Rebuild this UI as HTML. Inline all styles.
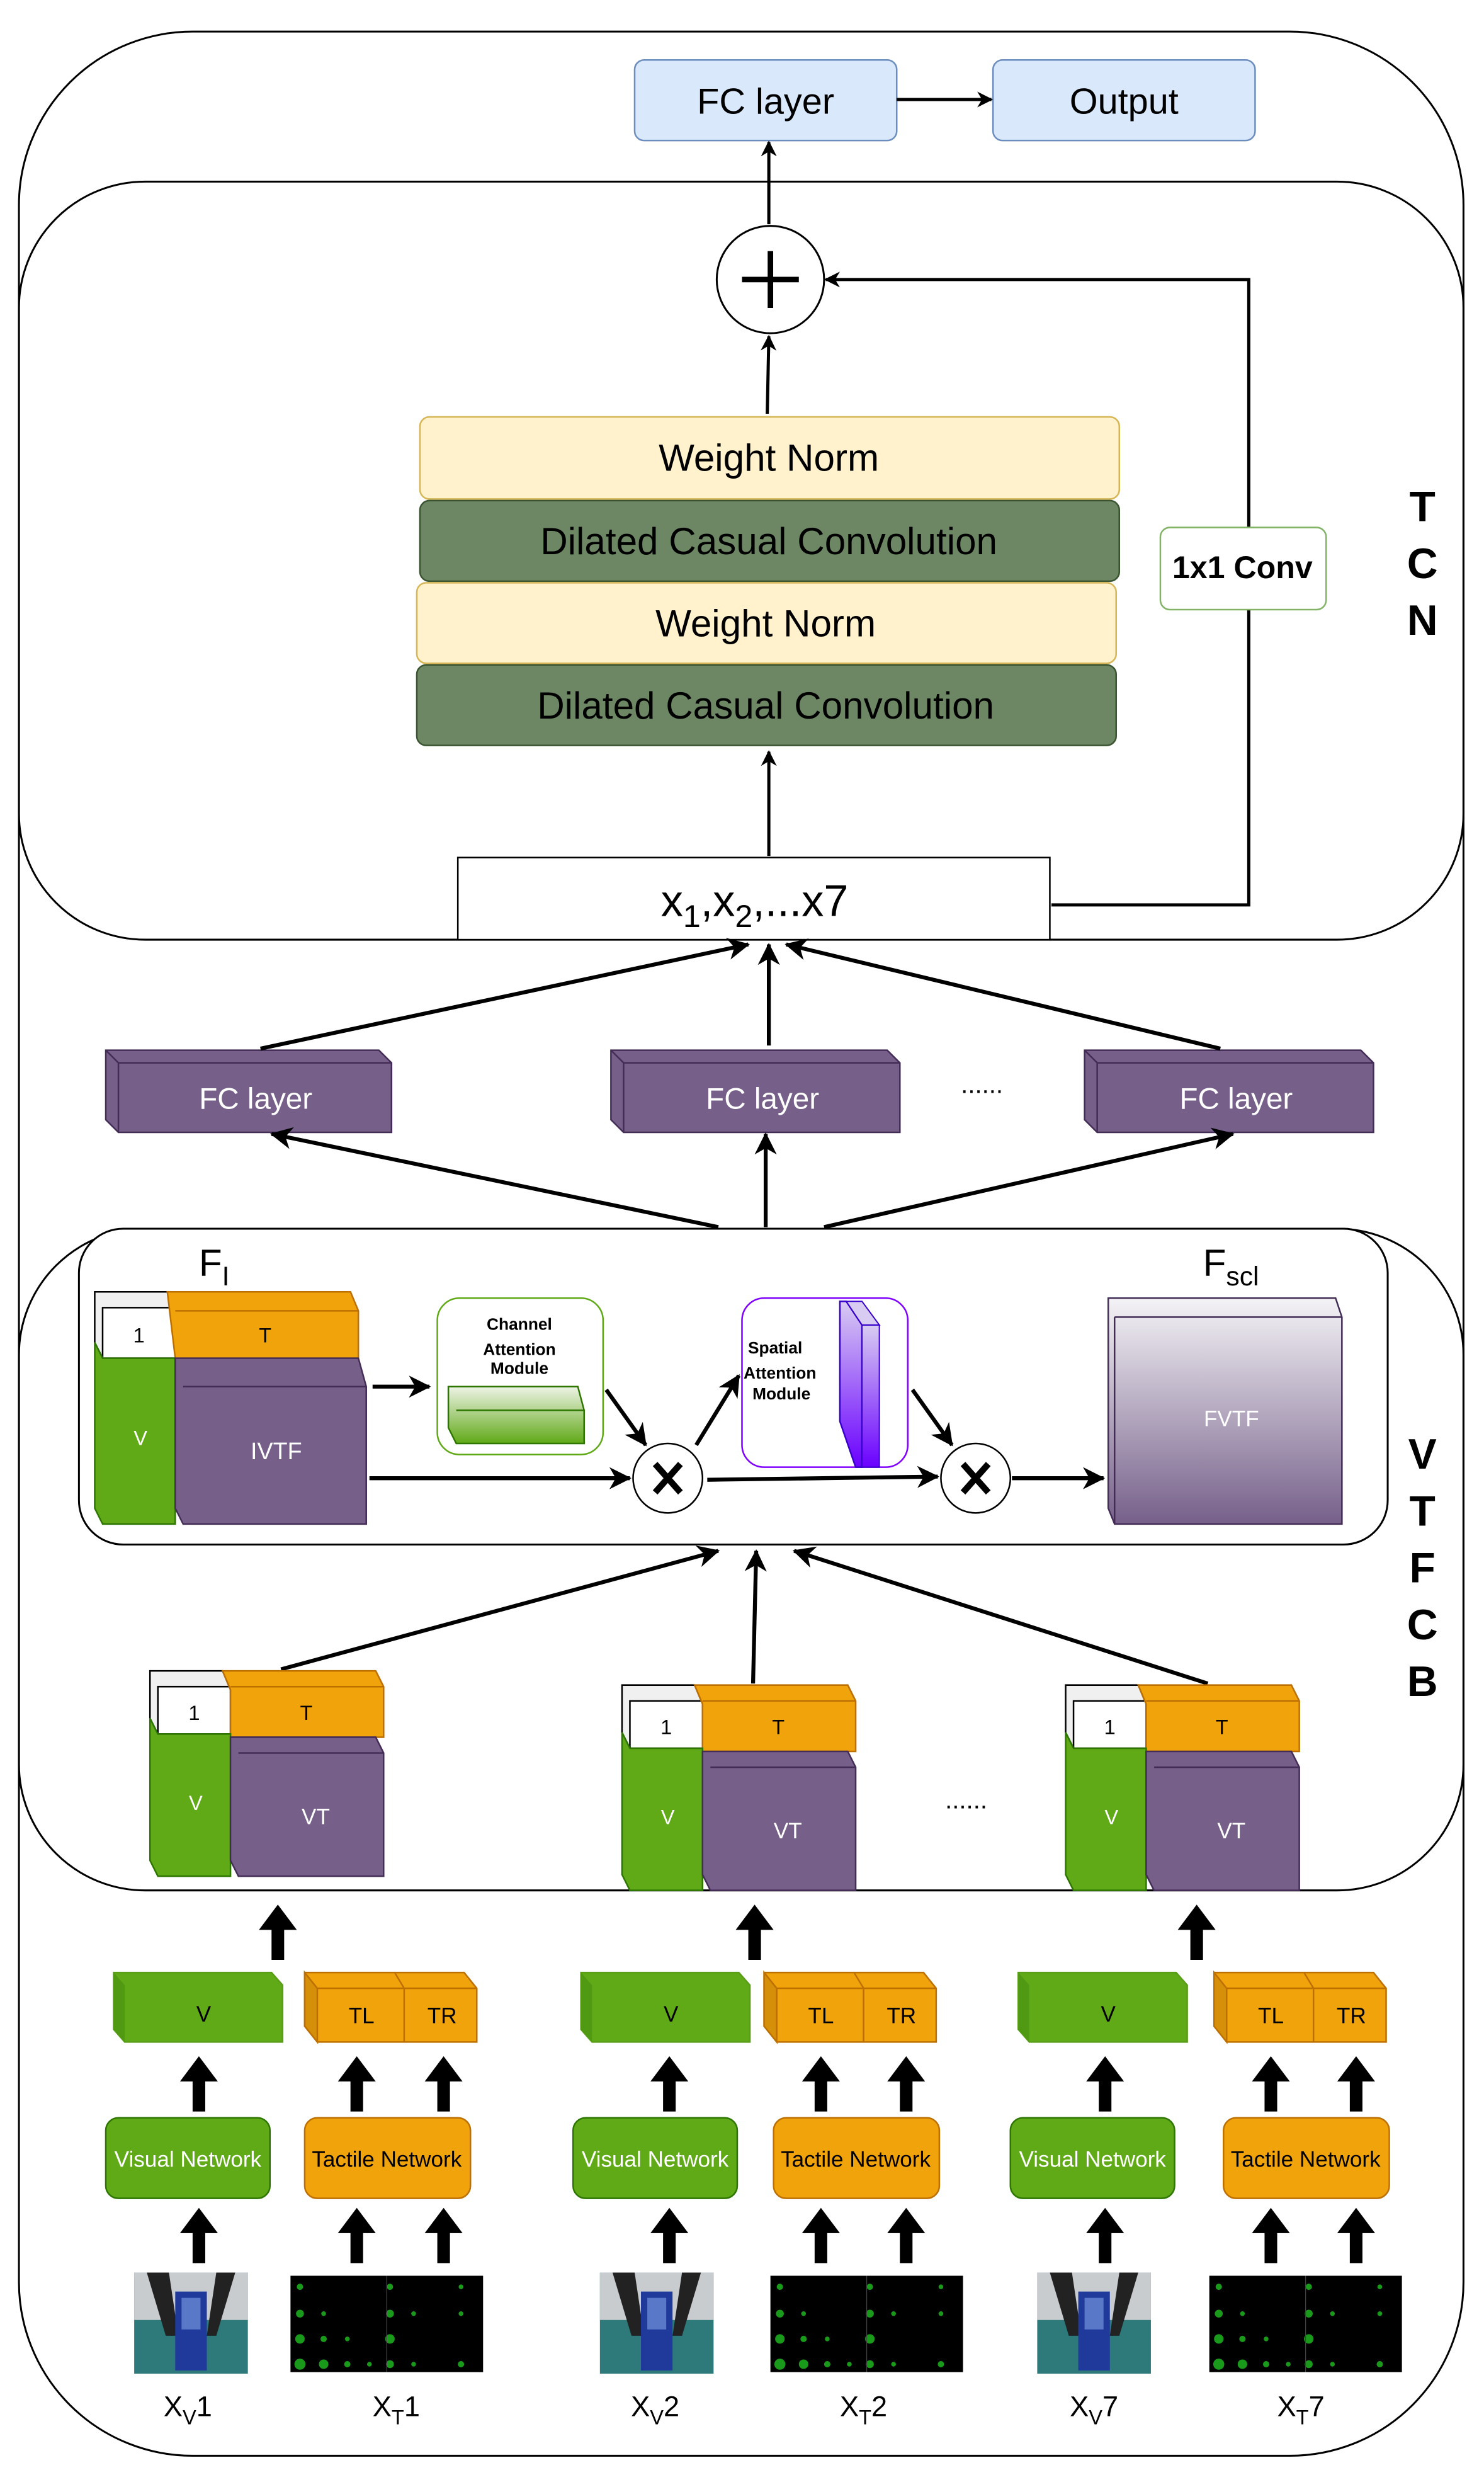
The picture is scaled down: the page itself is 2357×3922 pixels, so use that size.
<!DOCTYPE html>
<html><head><meta charset="utf-8"><style>
html,body{margin:0;padding:0;background:#fff;}
svg{display:block;}
text{font-family:"Liberation Sans",sans-serif;}
</style></head><body>
<svg width="2357" height="3922" viewBox="0 0 940 1564" preserveAspectRatio="none" xmlns="http://www.w3.org/2000/svg">
<defs>
<marker id="a" markerWidth="10" markerHeight="10" refX="9" refY="5" orient="auto" markerUnits="userSpaceOnUse"><path d="M0,0 L10,5 L0,10 L3,5 z" fill="#000"/></marker>
<marker id="b" markerWidth="14" markerHeight="14" refX="13" refY="7" orient="auto" markerUnits="userSpaceOnUse"><path d="M0,0 L14,7 L0,14 L4,7 z" fill="#000"/></marker>
<linearGradient id="gg" x1="0" y1="0" x2="0" y2="1"><stop offset="0" stop-color="#eef3e6"/><stop offset="1" stop-color="#60a917"/></linearGradient>
<linearGradient id="gp" x1="0" y1="0" x2="0" y2="1"><stop offset="0" stop-color="#d8ccf2"/><stop offset="1" stop-color="#6a00ff"/></linearGradient>
<linearGradient id="gf" x1="0" y1="0" x2="0" y2="1"><stop offset="0" stop-color="#f4f3f6"/><stop offset="1" stop-color="#76608a"/></linearGradient>
<g id="photo"><rect width="72" height="64" fill="#2e7a7a"/><rect width="72" height="30" fill="#c9cccf"/><path d="M8,0 L20,40 L28,40 L22,0 z M64,0 L52,40 L46,40 L52,0 z" fill="#222"/><rect x="26" y="12" width="20" height="50" fill="#1f3a9a"/><rect x="30" y="16" width="12" height="20" fill="#5a78c8"/></g>
<g id="tact"><rect width="122" height="61" fill="#000"/>
<g fill="#1a9a1a"><circle cx="6" cy="7" r="2"/><circle cx="6" cy="24" r="2.5"/><circle cx="6" cy="40" r="3"/><circle cx="6" cy="56" r="3.5"/><circle cx="21" cy="24" r="1.5"/><circle cx="21" cy="40" r="2"/><circle cx="21" cy="56" r="3"/><circle cx="36" cy="40" r="1.5"/><circle cx="36" cy="56" r="2"/><circle cx="50" cy="56" r="1.5"/><circle cx="63" cy="7" r="2"/><circle cx="63" cy="24" r="2.5"/><circle cx="63" cy="40" r="3"/><circle cx="63" cy="56" r="2.5"/><circle cx="78" cy="24" r="1.5"/><circle cx="78" cy="56" r="1.5"/><circle cx="108" cy="7" r="1.5"/><circle cx="108" cy="24" r="1.5"/><circle cx="108" cy="56" r="2"/></g>
<line x1="61" y1="0" x2="61" y2="61" stroke="#444" stroke-width="0.5"/></g>
<g id="up"><polygon points="-4,35 4,35 4,16 12,16 0,0 -12,16 -4,16" fill="#000"/></g>
<g id="vt">
<polygon points="0,0 46,0 51,12 51,40 5,40 0,30" fill="#f0f0f0" stroke="#000"/>
<rect x="5" y="10" width="46" height="30" fill="#fff" stroke="#000"/>
<text x="28" y="31" font-size="13" text-anchor="middle">1</text>
<polygon points="46,0 143,0 148,10 148,42 51,42 51,12" fill="#f0a30a" stroke="#bd7000"/>
<line x1="51" y1="10" x2="148" y2="10" stroke="#bd7000"/>
<text x="99" y="31" font-size="13" text-anchor="middle">T</text>
<polygon points="0,30 5,40 51,40 51,130 5,130 0,120" fill="#60a917" stroke="#2d7600"/>
<text x="29" y="88" font-size="13" fill="#fff" text-anchor="middle">V</text>
<polygon points="51,42 143,42 148,52 148,130 56,130 51,120" fill="#76608a" stroke="#432d57"/>
<line x1="56" y1="52" x2="148" y2="52" stroke="#432d57"/>
<text x="105" y="97" font-size="14" fill="#fff" text-anchor="middle">VT</text>
</g>
<g id="vbox">
<polygon points="0,0 100,0 107,8 107,44 7,44 0,36" fill="#60a917" stroke="#5a9e18"/>
<polygon points="0,0 7,8 7,44 0,36" fill="#4f9a12"/>
<rect x="0" y="0" width="107" height="8" fill="#58a016" opacity="0"/>
<text x="57" y="31" font-size="14" text-anchor="middle">V</text>
</g>
<g id="tbox">
<polygon points="0,0 101,0 109,10 109,44 8,44 0,34" fill="#f0a30a" stroke="#bd7000"/>
<polygon points="0,0 8,10 8,44 0,34" fill="#d68f08" stroke="#bd7000"/>
<line x1="8" y1="10" x2="109" y2="10" stroke="#bd7000"/>
<line x1="63" y1="10" x2="63" y2="44" stroke="#bd7000"/>
<line x1="57" y1="0" x2="63" y2="10" stroke="#bd7000"/>
<text x="36" y="32" font-size="14" text-anchor="middle">TL</text>
<text x="87" y="32" font-size="14" text-anchor="middle">TR</text>
</g>
<g id="vnet"><rect x="0" y="0" width="104" height="51" rx="8" fill="#60a917" stroke="#2d7600"/><text x="52" y="31" font-size="14" fill="#fff" text-anchor="middle">Visual Network</text></g>
<g id="tnet"><rect x="0" y="0" width="105" height="51" rx="8" fill="#f0a30a" stroke="#bd7000"/><text x="52" y="31" font-size="14" text-anchor="middle">Tactile Network</text></g>
</defs>

<rect x="12" y="20" width="915" height="1535" rx="110" ry="110" fill="none" stroke="#000" stroke-width="1.2"/>
<rect x="12" y="115" width="915" height="480" rx="80" ry="80" fill="none" stroke="#000" stroke-width="1.2"/>
<rect x="12" y="778" width="915" height="419" rx="80" ry="80" fill="none" stroke="#000" stroke-width="1.2"/>
<rect x="50" y="778" width="829" height="200" rx="28" ry="28" fill="#fff" stroke="#000" stroke-width="1.2"/>

<rect x="402" y="38" width="166" height="51" rx="6" fill="#dae8fc" stroke="#6c8ebf"/>
<text x="485" y="72" font-size="23" text-anchor="middle">FC layer</text>
<rect x="629" y="38" width="166" height="51" rx="6" fill="#dae8fc" stroke="#6c8ebf"/>
<text x="712" y="72" font-size="23" text-anchor="middle">Output</text>
<line x1="568" y1="63" x2="628" y2="63" stroke="#000" stroke-width="2" marker-end="url(#a)"/>
<line x1="487" y1="142" x2="487" y2="90" stroke="#000" stroke-width="2" marker-end="url(#a)"/>
<circle cx="488" cy="177" r="34" fill="#fff" stroke="#000" stroke-width="1.2"/>
<path d="M470,177 H506 M488,159 V195" stroke="#000" stroke-width="3.5"/>
<line x1="486" y1="262" x2="487" y2="213" stroke="#000" stroke-width="2" marker-end="url(#a)"/>

<rect x="266" y="264" width="443" height="52" rx="6" fill="#fff2cc" stroke="#d6b656"/>
<text x="487" y="298" font-size="24" text-anchor="middle">Weight Norm</text>
<rect x="266" y="317" width="443" height="51" rx="6" fill="#6d8764" stroke="#3a5431"/>
<text x="487" y="351" font-size="24" text-anchor="middle">Dilated Casual Convolution</text>
<rect x="264" y="369" width="443" height="51" rx="6" fill="#fff2cc" stroke="#d6b656"/>
<text x="485" y="403" font-size="24" text-anchor="middle">Weight Norm</text>
<rect x="264" y="421" width="443" height="51" rx="6" fill="#6d8764" stroke="#3a5431"/>
<text x="485" y="455" font-size="24" text-anchor="middle">Dilated Casual Convolution</text>

<polyline points="666,573 791,573 791,177 523,177" fill="none" stroke="#000" stroke-width="2" marker-end="url(#a)"/>
<rect x="735" y="334" width="105" height="52" rx="6" fill="#fff" stroke="#82b366"/>
<text x="787" y="366" font-size="20" font-weight="bold" text-anchor="middle">1x1 Conv</text>
<line x1="487" y1="542" x2="487" y2="476" stroke="#000" stroke-width="2" marker-end="url(#a)"/>

<rect x="290" y="543" width="375" height="52" fill="#fff" stroke="#000"/>
<text x="478" y="580" font-size="28" text-anchor="middle">x<tspan font-size="20" dy="7">1</tspan><tspan dy="-7">,x</tspan><tspan font-size="20" dy="7">2</tspan><tspan dy="-7">,...x7</tspan></text>

<g font-size="27" font-weight="bold" text-anchor="middle"><text x="901" y="330">T</text><text x="901" y="366">C</text><text x="901" y="402">N</text>
<text x="901" y="930">V</text><text x="901" y="966">T</text><text x="901" y="1002">F</text><text x="901" y="1038">C</text><text x="901" y="1074">B</text></g>

<g fill="#76608a" stroke="#432d57">
<polygon points="67,665 240,665 248,673 248,717 75,717 67,709"/>
<polygon points="387,665 562,665 570,673 570,717 395,717 387,709"/>
<polygon points="687,665 862,665 870,673 870,717 695,717 687,709"/>
</g>
<g stroke="#432d57" fill="none"><path d="M67,665 L75,673 H248 M75,673 V717"/><path d="M387,665 L395,673 H570 M395,673 V717"/><path d="M687,665 L695,673 H870 M695,673 V717"/></g>
<g font-size="19" fill="#fff" text-anchor="middle"><text x="162" y="702">FC layer</text><text x="483" y="702">FC layer</text><text x="783" y="702">FC layer</text></g>
<text x="622" y="692" font-size="16" text-anchor="middle">......</text>
<g stroke="#000" stroke-width="2.5">
<line x1="165" y1="664" x2="474" y2="598" marker-end="url(#b)"/>
<line x1="487" y1="662" x2="487" y2="598" marker-end="url(#b)"/>
<line x1="773" y1="664" x2="498" y2="598" marker-end="url(#b)"/>
<line x1="455" y1="777" x2="172" y2="718" marker-end="url(#b)"/>
<line x1="485" y1="777" x2="485" y2="718" marker-end="url(#b)"/>
<line x1="522" y1="777" x2="781" y2="718" marker-end="url(#b)"/>
</g>

<text x="126" y="808" font-size="24">F<tspan font-size="17" dy="6">I</tspan></text>
<text x="762" y="808" font-size="24">F<tspan font-size="17" dy="6">scl</tspan></text>
<polygon points="60,818 106,818 111,832 111,860 65,860 60,850" fill="#f0f0f0" stroke="#000"/>
<rect x="65" y="828" width="46" height="32" fill="#fff" stroke="#000"/>
<text x="88" y="850" font-size="13" text-anchor="middle">1</text>
<polygon points="106,818 222,818 227,830 227,860 111,860" fill="#f0a30a" stroke="#bd7000"/>
<line x1="111" y1="830" x2="227" y2="830" stroke="#bd7000"/>
<text x="168" y="850" font-size="13" text-anchor="middle">T</text>
<polygon points="60,850 65,860 111,860 111,965 65,965 60,955" fill="#60a917" stroke="#2d7600"/>
<text x="89" y="915" font-size="13" fill="#fff" text-anchor="middle">V</text>
<polygon points="111,860 227,860 232,878 232,965 116,965 111,955" fill="#76608a" stroke="#432d57"/>
<line x1="116" y1="878" x2="232" y2="878" stroke="#432d57"/>
<text x="175" y="924" font-size="15" fill="#fff" text-anchor="middle">IVTF</text>

<rect x="277" y="822" width="105" height="99" rx="14" fill="#fff" stroke="#60a917"/>
<g font-size="10.5" font-weight="bold" text-anchor="middle"><text x="329" y="842">Channel</text><text x="329" y="858">Attention</text><text x="329" y="870">Module</text></g>
<polygon points="284,878 366,878 370,893 370,914 289,914 284,904" fill="url(#gg)" stroke="#2d7600"/>
<line x1="289" y1="893" x2="370" y2="893" stroke="#2d7600"/>

<rect x="470" y="822" width="105" height="107" rx="14" fill="#fff" stroke="#7f00ff"/>
<g font-size="10.5" font-weight="bold" text-anchor="middle"><text x="491" y="857">Spatial</text><text x="494" y="873">Attention</text><text x="495" y="886">Module</text></g>
<polygon points="532,824 536,824 546,839 546,929 542,929 532,900" fill="url(#gp)" stroke="#3700cc"/>
<rect x="546" y="839" width="11" height="90" fill="url(#gp)" stroke="#3700cc" stroke-width="0.8"/>
<polygon points="536,824 546,839 557,839 546,824" fill="#d8ccf2" stroke="#3700cc" stroke-width="0.8"/>

<polygon points="702,822 846,822 850,834 850,965 706,965 702,955" fill="url(#gf)" stroke="#432d57"/>
<line x1="706" y1="834" x2="850" y2="834" stroke="#432d57"/><line x1="706" y1="834" x2="706" y2="965" stroke="#432d57"/>
<text x="780" y="903" font-size="14" fill="#fff" text-anchor="middle">FVTF</text>

<circle cx="423" cy="936" r="22" fill="#fff" stroke="#000"/>
<circle cx="618" cy="936" r="22" fill="#fff" stroke="#000"/>
<g stroke="#000" stroke-width="4"><path d="M415,927 L431,945 M431,927 L415,945"/><path d="M610,927 L626,945 M626,927 L610,945"/></g>
<g stroke="#000" stroke-width="2.5">
<line x1="236" y1="878" x2="272" y2="878" marker-end="url(#b)"/>
<line x1="234" y1="936" x2="399" y2="936" marker-end="url(#b)"/>
<line x1="384" y1="880" x2="409" y2="915" marker-end="url(#b)"/>
<line x1="441" y1="915" x2="468" y2="871" marker-end="url(#b)"/>
<line x1="448" y1="937" x2="594" y2="935" marker-end="url(#b)"/>
<line x1="578" y1="880" x2="603" y2="915" marker-end="url(#b)"/>
<line x1="641" y1="936" x2="699" y2="936" marker-end="url(#b)"/>
<line x1="178" y1="1057" x2="455" y2="982" marker-end="url(#b)"/>
<line x1="477" y1="1066" x2="479" y2="982" marker-end="url(#b)"/>
<line x1="765" y1="1066" x2="503" y2="982" marker-end="url(#b)"/>
</g>

<use href="#vt" transform="translate(95,1058)"/>
<use href="#vt" transform="translate(394,1067)"/>
<use href="#vt" transform="translate(675,1067)"/>
<text x="612" y="1145" font-size="16" text-anchor="middle">......</text>

<!-- bottom -->
<use href="#up" x="176" y="1206"/><use href="#up" x="478" y="1206"/><use href="#up" x="758" y="1206"/>
<use href="#vbox" x="72" y="1249"/><use href="#tbox" x="193" y="1249"/>
<use href="#vbox" x="368" y="1249"/><use href="#tbox" x="484" y="1249"/>
<use href="#vbox" x="645" y="1249"/><use href="#tbox" x="769" y="1249"/>

<use href="#up" x="126" y="1302"/><use href="#up" x="226" y="1302"/><use href="#up" x="281" y="1302"/>
<use href="#up" x="424" y="1302"/><use href="#up" x="520" y="1302"/><use href="#up" x="574" y="1302"/>
<use href="#up" x="700" y="1302"/><use href="#up" x="805" y="1302"/><use href="#up" x="859" y="1302"/>

<use href="#vnet" x="67" y="1341"/><use href="#tnet" x="193" y="1341"/>
<use href="#vnet" x="363" y="1341"/><use href="#tnet" x="490" y="1341"/>
<use href="#vnet" x="640" y="1341"/><use href="#tnet" x="775" y="1341"/>

<use href="#up" x="126" y="1398"/><use href="#up" x="226" y="1398"/><use href="#up" x="281" y="1398"/>
<use href="#up" x="424" y="1398"/><use href="#up" x="520" y="1398"/><use href="#up" x="574" y="1398"/>
<use href="#up" x="700" y="1398"/><use href="#up" x="805" y="1398"/><use href="#up" x="859" y="1398"/>

<use href="#photo" x="85" y="1439"/><use href="#tact" x="184" y="1441"/>
<use href="#photo" x="380" y="1439"/><use href="#tact" x="488" y="1441"/>
<use href="#photo" x="657" y="1439"/><use href="#tact" x="766" y="1441"/>

<g font-size="18" text-anchor="middle">
<text x="119" y="1530">X<tspan font-size="13" dy="5">V</tspan><tspan dy="-5">1</tspan></text>
<text x="251" y="1530">X<tspan font-size="13" dy="5">T</tspan><tspan dy="-5">1</tspan></text>
<text x="415" y="1530">X<tspan font-size="13" dy="5">V</tspan><tspan dy="-5">2</tspan></text>
<text x="547" y="1530">X<tspan font-size="13" dy="5">T</tspan><tspan dy="-5">2</tspan></text>
<text x="693" y="1530">X<tspan font-size="13" dy="5">V</tspan><tspan dy="-5">7</tspan></text>
<text x="824" y="1530">X<tspan font-size="13" dy="5">T</tspan><tspan dy="-5">7</tspan></text>
</g>
</svg>
</body></html>
